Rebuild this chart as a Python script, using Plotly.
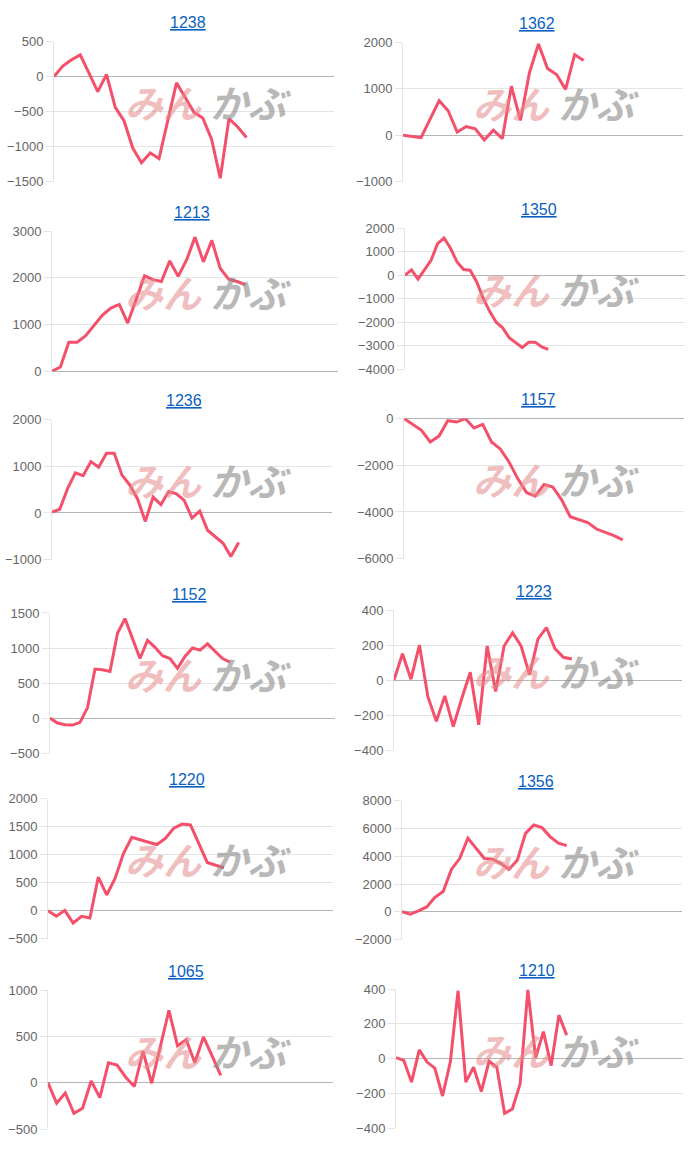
import plotly.graph_objects as go

# ---- data ----
titles = ["1238", "1362", "1213", "1350", "1236", "1157",
          "1152", "1223", "1220", "1356", "1065", "1210"]

s1238 = [0, 150, 240, 310, 50, -215, 30, -440, -630, -1020, -1230, -1090, -1170,
         -630, -90, -300, -510, -590, -890, -1450, -600, -720, -870]
s1362 = [0, -20, -50, 350, 745, 530, 70, 190, 140, -100, 110, -70, 1060, 320,
         1350, 1970, 1440, 1310, 990, 1740, 1610]
s1213 = [0, 90, 620, 620, 760, 980, 1200, 1350, 1430, 1030, 1530, 2040, 1960, 1920,
         2360, 2030, 2380, 2870, 2340, 2800, 2200, 1970, 1920, 1850]
s1350 = [0, 220, -170, 220, 630, 1340, 1580, 1130, 560, 240, 210, -280, -980,
         -1540, -2000, -2240, -2660, -2870, -3080, -2850, -2850, -3050, -3160]
s1236 = [20, 80, 520, 860, 800, 1100, 980, 1280, 1280, 810, 600, 300, -180, 340,
         180, 460, 410, 270, -110, 40, -370, -510, -650, -930, -630]
s1157 = [0, -250, -500, -1000, -750, -90, -150, 0, -400, -250, -1000, -1300, -1860,
         -2570, -3170, -3320, -2820, -2930, -3470, -4200, -4340, -4450, -4730,
         -4870, -5010, -5190]
s1152 = [0, -70, -95, -100, -60, 150, 700, 690, 665, 1210, 1420, 1130, 850, 1110,
         1010, 890, 850, 710, 880, 1000, 970, 1060, 955, 850, 800]
s1223 = [0, 150, 5, 200, -95, -235, -90, -265, -105, 45, -255, 195, -65, 195, 270,
         195, 30, 235, 300, 180, 130, 120]
s1220 = [0, -100, 5, -220, -100, -130, 600, 280, 575, 1020, 1310, 1260, 1220, 1180,
         1290, 1470, 1545, 1530, 1190, 860, 810, 765]
s1356 = [20, -160, 70, 350, 1040, 1460, 3050, 3830, 5300, 4590, 3830, 3790, 3480,
         3060, 3700, 5640, 6240, 6050, 5390, 4930, 4760]
s1065 = [0, -220, -110, -330, -275, 20, -160, 215, 190, 60, -40, 340, -5, 400, 780,
         400, 465, 215, 495, 290, 80]
s1210 = [5, -10, -135, 50, -20, -55, -215, -20, 390, -135, -50, -190, -15, -50,
         -315, -290, -145, 395, 5, 155, -40, 250, 135]

series = [s1238, s1362, s1213, s1350, s1236, s1157,
          s1152, s1223, s1220, s1356, s1065, s1210]

# number of x slots (category positions) on each panel's axis
x_slots = [33, 32, 35, 44, 37, 33, 39, 35, 35, 35, 34, 38]

y_ranges = [(-1500, 500), (-1000, 2000), (0, 3000), (-4000, 2000),
            (-1000, 2000), (-6000, 0), (-500, 1500), (-400, 400),
            (-500, 2000), (-2000, 8000), (-500, 1000), (-400, 400)]
y_steps = [500, 1000, 1000, 1000, 1000, 2000, 500, 200, 500, 2000, 500, 200]

# ---- layout geometry (pixels) ----
W, H = 700, 1150
lefts = [54, 403, 52, 405, 52, 404, 50, 394, 48, 402, 48, 396]
rights = [334, 683, 338, 685, 332, 684, 335, 682, 333, 682, 333, 683]
tops = [35, 36, 227, 224, 418, 417, 614, 611, 802, 804, 996, 995]
bottoms = [177, 177, 369, 367, 560, 559, 756, 753, 944, 945, 1137, 1136]
title_x = [188, 537, 192, 539, 184, 538, 189, 534, 187, 536, 186, 537]

LINE = "#f4506b"
GRID = "#e4e4e4"
FONT = "Liberation Sans, Arial, Helvetica, sans-serif"

fig = go.Figure()
annotations = []
layout = dict(width=W, height=H, margin=dict(l=0, r=0, t=0, b=0),
              paper_bgcolor="white", plot_bgcolor="white", showlegend=False,
              font=dict(family=FONT, size=13, color="#666666"))

for i, (name, vals) in enumerate(zip(titles, series)):
    k = "" if i == 0 else str(i + 1)
    fig.add_trace(go.Scatter(
        x=list(range(len(vals))), y=vals, mode="lines",
        line=dict(color=LINE, width=3), xaxis="x" + k, yaxis="y" + k,
        hoverinfo="y"))
    L, R, T, B = lefts[i], rights[i], tops[i], bottoms[i]
    layout["xaxis" + k] = dict(
        domain=[L / W, R / W], anchor="y" + k, range=[0, x_slots[i] - 1],
        showgrid=False, zeroline=False, showline=False, showticklabels=False,
        ticks="", fixedrange=True)
    layout["yaxis" + k] = dict(
        domain=[1 - B / H, 1 - T / H], anchor="x" + k,
        range=list(y_ranges[i]), dtick=y_steps[i], tick0=0,
        showgrid=True, gridcolor=GRID, gridwidth=1,
        zeroline=True, zerolinecolor="#b4b4b4", zerolinewidth=1,
        showline=True, linecolor=GRID, linewidth=1,
        ticks="outside", ticklen=7, tickcolor=GRID,
        tickfont=dict(family=FONT, size=13, color="#666666"),
        fixedrange=True)
    annotations.append(dict(
        text="<u>" + name + "</u>", x=title_x[i] / W, y=1 - (T - 19) / H,
        xref="paper", yref="paper", showarrow=False, xanchor="center",
        yanchor="middle", font=dict(family=FONT, size=16, color="#0b5fc0")))
    left_col = (i % 2 == 0)
    wy = 1 - (T + 61) / H
    px = 163 if left_col else 511
    gx = 250 if left_col else 598
    annotations.append(dict(
        text="<b><i>みん</i></b>", x=px / W, y=wy, xref="paper", yref="paper",
        showarrow=False, xanchor="center", yanchor="middle", opacity=0.55,
        font=dict(family="Noto Sans CJK JP", size=38, color="#e58a8a")))
    annotations.append(dict(
        text="<b><i>かぶ</i></b>", x=gx / W, y=wy, xref="paper", yref="paper",
        showarrow=False, xanchor="center", yanchor="middle", opacity=0.6,
        font=dict(family="Noto Sans CJK JP", size=38, color="#8a8a8a")))

layout["annotations"] = annotations
fig.update_layout(**layout)
fig.write_html("out.html")
